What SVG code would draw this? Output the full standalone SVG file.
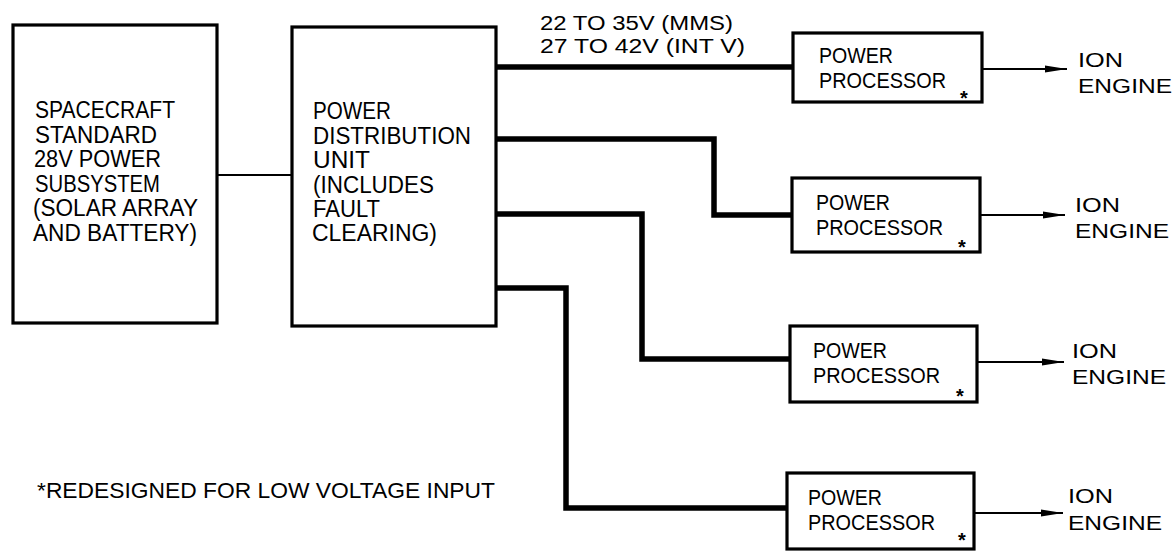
<svg xmlns="http://www.w3.org/2000/svg" width="1174" height="552" viewBox="0 0 1174 552">
<style>
.box{fill:#fff;stroke:#000;stroke-width:3.2}
.t{font-family:"Liberation Sans",Arial,sans-serif;font-size:23px;fill:#000}
.v{font-family:"Liberation Sans",Arial,sans-serif;font-size:20px;fill:#000}
.p{font-family:"Liberation Sans",Arial,sans-serif;font-size:22px;fill:#000}
.e{font-family:"Liberation Sans",Arial,sans-serif;font-size:21px;fill:#000}
.f{font-family:"Liberation Sans",Arial,sans-serif;font-size:22px;fill:#000}
.ast{font-family:"Liberation Sans",Arial,sans-serif;font-size:20px;font-weight:bold;fill:#000;text-anchor:middle}
.thick{fill:none;stroke:#000;stroke-width:5.5;stroke-linejoin:miter}
.thin{fill:none;stroke:#000;stroke-width:2}
</style>
<defs>
<marker id="ah" markerWidth="22" markerHeight="10" refX="22" refY="5" orient="auto" markerUnits="userSpaceOnUse">
<path d="M0,1.5 L22,5 L0,8.5 Z" fill="#000"/>
</marker>
</defs>
<rect width="1174" height="552" fill="#fff"/>

<g id="connectors">
<line class="thin" x1="217" y1="175" x2="292" y2="175"/>
<polyline class="thick" points="496,67 793,67"/>
<polyline class="thick" points="496,139 714,139 714,215 792,215"/>
<polyline class="thick" points="496,214 642,214 642,359 790,359"/>
<polyline class="thick" points="496,288 566,288 566,508 787,508"/>
<line class="thin" x1="982" y1="69" x2="1067" y2="69" marker-end="url(#ah)"/>
<line class="thin" x1="980" y1="215" x2="1065" y2="215" marker-end="url(#ah)"/>
<line class="thin" x1="977" y1="362" x2="1064" y2="362" marker-end="url(#ah)"/>
<line class="thin" x1="974" y1="513" x2="1063" y2="513" marker-end="url(#ah)"/>
</g>

<g id="spacecraft">
<rect class="box" x="13" y="25" width="204" height="298"/>
<text class="t" x="35" y="118" textLength="140" lengthAdjust="spacingAndGlyphs">SPACECRAFT</text>
<text class="t" x="35" y="143" textLength="122" lengthAdjust="spacingAndGlyphs">STANDARD</text>
<text class="t" x="34" y="167" textLength="127" lengthAdjust="spacingAndGlyphs">28V POWER</text>
<text class="t" x="35" y="192" textLength="125" lengthAdjust="spacingAndGlyphs">SUBSYSTEM</text>
<text class="t" x="33" y="216" textLength="165" lengthAdjust="spacingAndGlyphs">(SOLAR ARRAY</text>
<text class="t" x="33" y="241" textLength="164" lengthAdjust="spacingAndGlyphs">AND BATTERY)</text>
</g>

<g id="pdu">
<rect class="box" x="292" y="27" width="204" height="299"/>
<text class="t" x="313" y="119" textLength="78" lengthAdjust="spacingAndGlyphs">POWER</text>
<text class="t" x="313" y="144" textLength="158" lengthAdjust="spacingAndGlyphs">DISTRIBUTION</text>
<text class="t" x="313" y="168" textLength="57" lengthAdjust="spacingAndGlyphs">UNIT</text>
<text class="t" x="313" y="193" textLength="121" lengthAdjust="spacingAndGlyphs">(INCLUDES</text>
<text class="t" x="313" y="217" textLength="67" lengthAdjust="spacingAndGlyphs">FAULT</text>
<text class="t" x="312" y="241" textLength="125" lengthAdjust="spacingAndGlyphs">CLEARING)</text>
</g>

<g id="voltage-label">
<text class="v" x="540" y="30" textLength="193" lengthAdjust="spacingAndGlyphs">22 TO 35V (MMS)</text>
<text class="v" x="540" y="53" textLength="205" lengthAdjust="spacingAndGlyphs">27 TO 42V (INT V)</text>
</g>

<g id="pp1">
<rect class="box" x="793" y="33" width="189" height="69"/>
<text class="p" x="819" y="63" textLength="74" lengthAdjust="spacingAndGlyphs">POWER</text>
<text class="p" x="819" y="88" textLength="127" lengthAdjust="spacingAndGlyphs">PROCESSOR</text>
<text class="ast" x="964" y="105">*</text>
</g>
<g id="pp2">
<rect class="box" x="792" y="178" width="188" height="74"/>
<text class="p" x="816" y="210" textLength="74" lengthAdjust="spacingAndGlyphs">POWER</text>
<text class="p" x="816" y="235" textLength="127" lengthAdjust="spacingAndGlyphs">PROCESSOR</text>
<text class="ast" x="962" y="254">*</text>
</g>
<g id="pp3">
<rect class="box" x="790" y="326" width="187" height="76"/>
<text class="p" x="813" y="358" textLength="74" lengthAdjust="spacingAndGlyphs">POWER</text>
<text class="p" x="813" y="383" textLength="127" lengthAdjust="spacingAndGlyphs">PROCESSOR</text>
<text class="ast" x="960" y="403">*</text>
</g>
<g id="pp4">
<rect class="box" x="787" y="473" width="187" height="76"/>
<text class="p" x="808" y="505" textLength="74" lengthAdjust="spacingAndGlyphs">POWER</text>
<text class="p" x="808" y="530" textLength="127" lengthAdjust="spacingAndGlyphs">PROCESSOR</text>
<text class="ast" x="962" y="547">*</text>
</g>

<g id="engine1"><text class="e" x="1078" y="67" textLength="45" lengthAdjust="spacingAndGlyphs">ION</text><text class="e" x="1078" y="93" textLength="94" lengthAdjust="spacingAndGlyphs">ENGINE</text></g>
<g id="engine2"><text class="e" x="1075" y="212" textLength="45" lengthAdjust="spacingAndGlyphs">ION</text><text class="e" x="1075" y="238" textLength="94" lengthAdjust="spacingAndGlyphs">ENGINE</text></g>
<g id="engine3"><text class="e" x="1072" y="358" textLength="45" lengthAdjust="spacingAndGlyphs">ION</text><text class="e" x="1072" y="384" textLength="94" lengthAdjust="spacingAndGlyphs">ENGINE</text></g>
<g id="engine4"><text class="e" x="1068" y="503" textLength="45" lengthAdjust="spacingAndGlyphs">ION</text><text class="e" x="1068" y="530" textLength="94" lengthAdjust="spacingAndGlyphs">ENGINE</text></g>

<g id="footnote">
<text class="f" x="37" y="498" textLength="458" lengthAdjust="spacingAndGlyphs">*REDESIGNED FOR LOW VOLTAGE INPUT</text>
</g>
</svg>
